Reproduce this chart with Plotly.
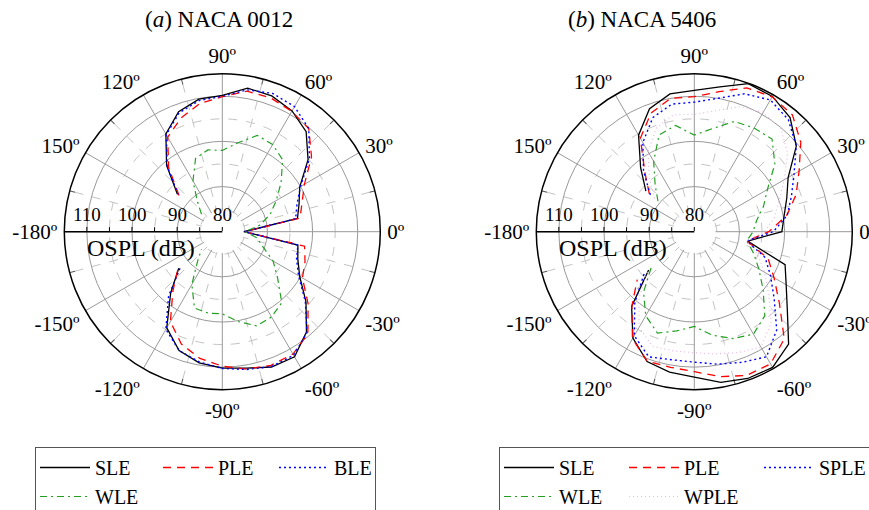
import plotly.graph_objects as go

# ---------------- data ----------------
THETA = [140, 130, 120, 110, 100, 90, 80, 70, 60, 50, 40, 30, 20, 10, 0,
         -10, -20, -30, -40, -50, -60, -70, -80, -90, -100, -110, -120, -130, -140]

# (a) NACA 0012
SLE_A = [93.0, 99.2, 105.0, 108.3, 109.8, 110.2, 112.3, 112.0, 110.9, 108.9, 104.8, 99.8, 98.1, 96.9, 84.8,
         97.0, 97.8, 99.8, 104.2, 109.0, 112.0, 111.9, 110.7, 110.2, 109.5, 108.0, 104.6, 97.8, 92.6]
PLE_A = [92.5, 98.5, 104.2, 106.8, 108.8, 109.9, 111.6, 111.5, 110.8, 109.8, 105.8, 101.0, 98.8, 97.5, 85.0,
         98.5, 99.5, 100.5, 104.8, 109.5, 111.3, 111.5, 110.9, 109.8, 108.5, 106.5, 103.0, 97.0, 92.8]
BLE_A = [92.8, 99.0, 104.8, 108.0, 109.5, 110.0, 111.9, 112.6, 112.0, 109.8, 105.2, 100.0, 97.6, 96.5, 84.9,
         97.0, 97.5, 99.5, 104.0, 109.2, 111.6, 111.8, 111.0, 110.3, 109.3, 108.0, 105.0, 98.5, 92.0]
WLE_A = [86.0, 88.5, 93.0, 97.3, 98.4, 98.0, 100.0, 102.7, 102.3, 100.8, 97.0, 93.8, 91.3, 88.5, 85.0,
         87.8, 89.5, 93.0, 96.0, 100.5, 101.8, 102.2, 100.2, 98.2, 98.3, 98.0, 93.5, 88.5, 86.0]

# (b) NACA 5406
SLE_B = [94.0, 98.5, 104.7, 109.0, 111.0, 111.3, 112.6, 114.9, 114.6, 113.0, 109.5, 104.0, 101.8, 100.2, 99.4,
         92.0, 101.4, 103.5, 106.9, 112.5, 114.7, 114.6, 113.9, 112.2, 111.6, 110.6, 107.2, 101.6, 93.2]
PLE_B = [93.0, 97.0, 103.9, 108.0, 110.0, 109.9, 111.5, 113.9, 114.5, 113.8, 110.8, 106.8, 104.0, 100.8, 96.5,
         91.8, 97.4, 100.4, 104.6, 111.0, 113.8, 113.9, 112.6, 111.0, 110.5, 110.5, 107.4, 101.5, 96.5]
SPLE_B = [92.7, 97.5, 102.8, 106.9, 108.7, 108.7, 110.0, 112.5, 113.7, 112.4, 109.5, 105.5, 102.9, 100.9, 97.5,
          91.8, 96.7, 99.5, 103.1, 108.4, 112.0, 110.8, 109.8, 108.9, 108.8, 109.5, 106.6, 100.5, 94.5]
WLE_B = [90.5, 93.5, 98.0, 102.8, 103.9, 101.4, 103.2, 106.0, 106.5, 106.8, 103.3, 98.7, 96.3, 94.0, 93.0,
         91.8, 94.0, 96.5, 99.9, 104.3, 106.2, 105.2, 103.3, 101.0, 102.3, 103.9, 101.5, 97.5, 92.5]
WPLE_B = [91.5, 95.5, 100.5, 104.5, 106.3, 106.0, 107.2, 109.5, 110.5, 109.8, 107.0, 103.0, 100.0, 98.0, 95.5,
          91.8, 95.0, 98.0, 101.5, 106.5, 109.5, 108.5, 107.5, 106.8, 106.8, 107.0, 104.5, 99.0, 93.5]

ANG_TICKVALS = [0, 30, 60, 90, 120, 150, 180, 210, 240, 270, 300, 330]
ANG_TICKTEXT = ["0º", "30º", "60º", "90º", "120º", "150º", "-180º", "-150º", "-120º", "-90º", "-60º", "-30º"]
ANG_MINOR = [15, 45, 75, 105, 135, 165, 195, 225, 255, 285, 315, 345]
RAD_TICKVALS = [80, 90, 100, 110]
RAD_TICKTEXT = ["80", "90", "100", "110"]
RAD_MINOR = [85, 95, 105]
RAD_RANGE = [80, 115]
HOLE_DB = 84.7
TITLES = ["(<i>a</i>) NACA 0012", "(<i>b</i>) NACA 5406"]

FONT = "Liberation Serif"
W, H = 869, 510
CY = 231.7      # polar centre (px from top)
RADIUS = 158    # polar radius (px)
CENTRES = [222.3, 694.3]

STYLE = {
    "SLE": dict(color="black", dash="solid", width=1.3),
    "PLE": dict(color="#ff0000", dash="8px,6px", width=1.3),
    "BLE": dict(color="#0000ff", dash="2px,3px", width=1.4),
    "SPLE": dict(color="#0000ff", dash="2px,3px", width=1.4),
    "WLE": dict(color="#22a022", dash="7px,4px,2px,4px", width=1.2),
    "WPLE": dict(color="#e9b9e3", dash="1px,3px", width=1.2),
}
GROUP = {"SLE": "g1", "WLE": "g1", "PLE": "g2", "WPLE": "g2", "BLE": "g3", "SPLE": "g3"}

fig = go.Figure()

def add_panel(grid_id, main_id, legend_id, series, widths):
    fig.add_trace(go.Scatterpolar(r=[], theta=[], subplot=grid_id, showlegend=False, hoverinfo="skip"))
    ring = list(range(0, 361, 5))
    fig.add_trace(go.Scatterpolar(r=[HOLE_DB] * len(ring), theta=ring, subplot=main_id, mode="lines",
                                  fill="toself", fillcolor="white", line=dict(width=0, color="white"),
                                  showlegend=False, hoverinfo="skip"))
    for name, vals in series:
        fig.add_trace(go.Scatterpolar(
            r=vals, theta=THETA, subplot=main_id, mode="lines", name=name,
            line=STYLE[name], legend=legend_id, legendgroup=GROUP[name] + legend_id,
            legendwidth=widths[name],
        ))

add_panel("polar", "polar2", "legend",
          [("SLE", SLE_A), ("PLE", PLE_A), ("BLE", BLE_A), ("WLE", WLE_A)],
          {"SLE": 58, "WLE": 58, "PLE": 51, "BLE": 36})
add_panel("polar3", "polar4", "legend2",
          [("SLE", SLE_B), ("PLE", PLE_B), ("SPLE", SPLE_B), ("WLE", WLE_B), ("WPLE", WPLE_B)],
          {"SLE": 60, "WLE": 60, "PLE": 70, "WPLE": 70, "SPLE": 60})

def dom(cx_px):
    return dict(x=[(cx_px - RADIUS) / W, (cx_px + RADIUS) / W],
                y=[(H - (CY + RADIUS)) / H, (H - (CY - RADIUS)) / H])

def grid_polar(cx):
    return dict(
        domain=dom(cx), bgcolor="white",
        radialaxis=dict(range=RAD_RANGE, angle=180, tickmode="array", tickvals=RAD_MINOR,
                        showticklabels=False, ticks="outside", ticklen=4, tickcolor="black",
                        showline=False, showgrid=True, gridcolor="#c4c4c4", griddash="dash", gridwidth=1,
                        side="clockwise"),
        angularaxis=dict(rotation=0, direction="counterclockwise", tickmode="array", tickvals=ANG_MINOR,
                         showticklabels=False, ticks="inside", ticklen=5, tickcolor="#555",
                         showline=False, showgrid=True, gridcolor="#c4c4c4", griddash="dash", gridwidth=1),
    )

def main_polar(cx):
    return dict(
        domain=dom(cx), bgcolor="rgba(0,0,0,0)",
        radialaxis=dict(range=RAD_RANGE, angle=180, tickmode="array", tickvals=RAD_TICKVALS,
                        showticklabels=False, ticks="outside", ticklen=4, tickcolor="black",
                        showline=True, linecolor="black", linewidth=1.5,
                        showgrid=True, gridcolor="#999999", gridwidth=1, side="clockwise"),
        angularaxis=dict(rotation=0, direction="counterclockwise", tickmode="array",
                         tickvals=ANG_TICKVALS, ticktext=ANG_TICKTEXT,
                         ticks="outside", ticklen=2, tickcolor="rgba(0,0,0,0)",
                         showline=True, linecolor="black", linewidth=1.5,
                         showgrid=True, gridcolor="#999999", gridwidth=1,
                         tickfont=dict(family=FONT, size=21, color="black")),
    )

def legend_cfg(x_px):
    return dict(x=x_px / W, y=1 - 447 / H, xanchor="left", yanchor="top", orientation="h",
                traceorder="grouped", bordercolor="#555", borderwidth=1, bgcolor="white",
                font=dict(family=FONT, size=20, color="black"), itemwidth=50, tracegroupgap=0)

annotations = []
for title, tx in zip(TITLES, [219, 642]):
    annotations.append(dict(text=title, x=tx / W, y=1 - 20 / H, xref="paper", yref="paper",
                            showarrow=False, font=dict(family=FONT, size=23, color="black"),
                            xanchor="center", yanchor="middle"))
px_per_db = RADIUS / (RAD_RANGE[1] - RAD_RANGE[0])
for cx in CENTRES:
    # radial tick labels, placed along the radial axis (angle 180) above its line
    for val, txt in zip(RAD_TICKVALS, RAD_TICKTEXT):
        annotations.append(dict(text=txt, x=(cx - (val - RAD_RANGE[0]) * px_per_db) / W,
                                y=1 - (CY - 17) / H, xref="paper", yref="paper", showarrow=False,
                                font=dict(family=FONT, size=19, color="black"),
                                xanchor="center", yanchor="middle"))
    annotations.append(dict(text="OSPL (dB)", x=(cx - 81.5) / W, y=1 - 248 / H, xref="paper",
                            yref="paper", showarrow=False, font=dict(family=FONT, size=24, color="black"),
                            xanchor="center", yanchor="middle"))

fig.update_layout(
    width=W, height=H, margin=dict(l=0, r=0, t=0, b=0, autoexpand=False),
    paper_bgcolor="white", plot_bgcolor="white",
    font=dict(family=FONT, color="black"),
    polar=grid_polar(CENTRES[0]), polar2=main_polar(CENTRES[0]),
    polar3=grid_polar(CENTRES[1]), polar4=main_polar(CENTRES[1]),
    legend=legend_cfg(35), legend2=legend_cfg(499),
    annotations=annotations,
)

fig.write_html("out.html", config={"displayModeBar": False},
               post_script="document.body.style.margin='0px';")
